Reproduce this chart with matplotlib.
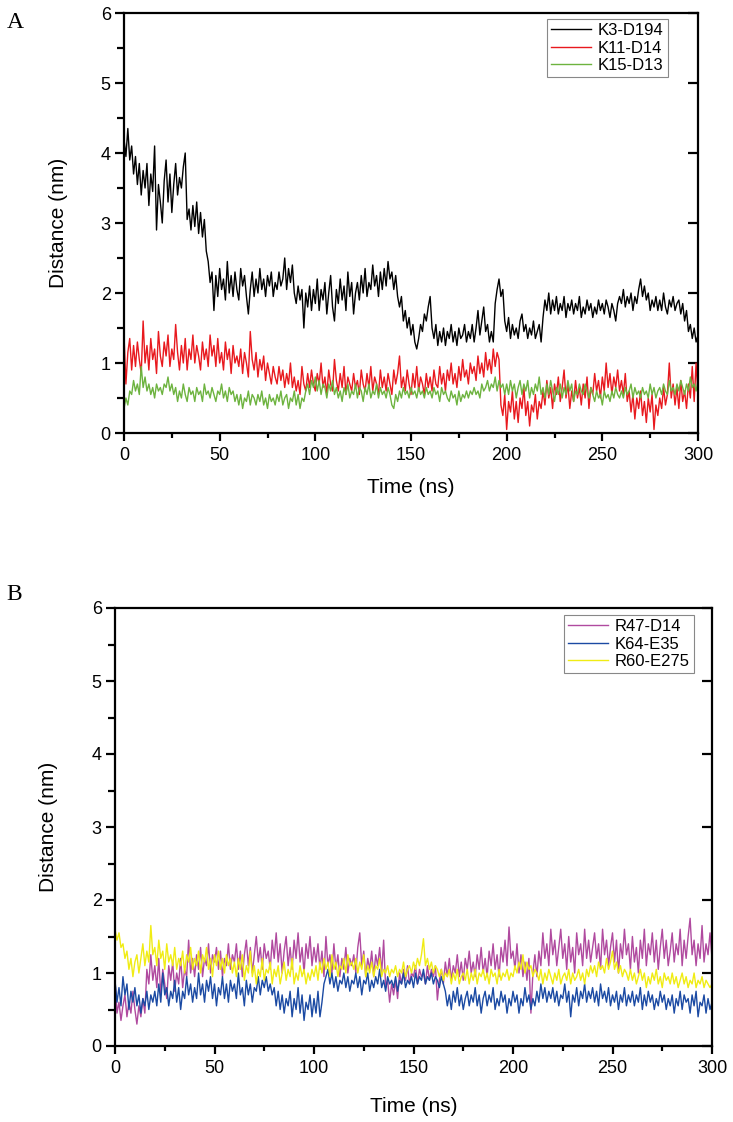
import numpy as np
import matplotlib

matplotlib.use("Agg")
import matplotlib.pyplot as plt
from matplotlib.ticker import MultipleLocator

# time axis: one read-off value per ns, 0..300 ns
time_ns = np.arange(0, 301)

# panel A, salt-bridge distances (nm) (10 ns per line)
k3_d194 = [
    4.20, 3.95, 4.35, 3.90, 4.10, 3.70, 3.95, 3.55, 3.85, 3.40,
    3.75, 3.50, 3.85, 3.25, 3.70, 3.45, 4.10, 2.90, 3.55, 3.30,
    3.00, 3.60, 3.90, 3.30, 3.70, 3.15, 3.55, 3.85, 3.40, 3.65,
    3.50, 3.80, 4.00, 3.05, 3.20, 2.90, 3.25, 2.95, 3.30, 2.85,
    3.15, 2.80, 3.05, 2.60, 2.45, 2.15, 2.30, 1.75, 2.25, 1.95,
    2.35, 2.05, 2.20, 1.90, 2.45, 2.00, 2.25, 1.95, 2.30, 2.05,
    1.90, 2.35, 2.10, 2.25, 1.95, 1.70, 2.05, 2.30, 1.95, 2.20,
    2.00, 2.35, 2.05, 2.20, 1.95, 2.25, 2.10, 2.30, 1.95, 2.15,
    2.05, 2.30, 2.10, 2.20, 2.50, 2.05, 2.35, 2.15, 2.40, 2.00,
    1.85, 2.10, 1.90, 2.05, 1.50, 2.00, 1.80, 2.10, 1.75, 2.05,
    1.85, 2.20, 1.75, 2.05, 1.90, 2.15, 1.70, 2.00, 2.25, 1.80,
    1.60, 2.05, 1.85, 2.20, 1.90, 2.10, 1.75, 2.30, 1.95, 2.15,
    1.70, 2.00, 2.15, 1.90, 2.25, 2.00, 2.35, 1.95, 2.15, 2.05,
    2.40, 2.10, 2.25, 1.95, 2.30, 2.05, 2.35, 2.10, 2.45, 2.20,
    2.30, 2.05, 2.25, 1.95, 1.80, 1.95, 1.60, 1.75, 1.50, 1.65,
    1.40, 1.55, 1.30, 1.20, 1.35, 1.55, 1.45, 1.70, 1.60, 1.80,
    1.95, 1.50, 1.35, 1.55, 1.25, 1.45, 1.30, 1.50, 1.25, 1.45,
    1.35, 1.55, 1.30, 1.45, 1.25, 1.50, 1.35, 1.40, 1.55, 1.30,
    1.45, 1.35, 1.55, 1.30, 1.50, 1.75, 1.40, 1.60, 1.80, 1.45,
    1.55, 1.30, 1.45, 1.30, 1.85, 2.05, 2.20, 1.95, 2.05, 1.60,
    1.45, 1.65, 1.35, 1.55, 1.40, 1.50, 1.35, 1.60, 1.70, 1.45,
    1.55, 1.35, 1.50, 1.40, 1.60, 1.35, 1.45, 1.55, 1.30, 1.65,
    1.90, 1.75, 2.00, 1.70, 1.90, 1.75, 1.95, 1.70, 1.85, 1.75,
    1.95, 1.65, 1.85, 1.75, 1.90, 1.70, 1.85, 1.75, 1.95, 1.65,
    1.80, 1.70, 1.90, 1.75, 1.85, 1.65, 1.80, 1.70, 1.90, 1.75,
    1.85, 1.70, 1.90, 1.80, 1.65, 1.85, 1.75, 1.60, 1.85, 1.95,
    1.85, 2.05, 1.80, 1.95, 1.85, 2.00, 1.75, 1.95, 1.85, 2.05,
    2.20, 1.95, 2.10, 1.90, 2.00, 1.75, 1.90, 1.80, 1.95, 1.75,
    1.90, 1.75, 2.00, 1.80, 1.70, 1.90, 1.80, 1.95, 1.75, 1.85,
    1.90, 1.70, 1.85, 1.60, 1.75, 1.45, 1.55, 1.35, 1.50, 1.30,
    1.40,
]
k11_d14 = [
    1.40, 0.70, 1.15, 1.35, 0.90, 1.25, 0.95, 1.30, 1.05, 0.85,
    1.60, 1.00, 1.25, 0.90, 1.35, 1.05, 1.20, 0.85, 1.45, 1.10,
    0.95, 1.30, 1.10, 1.40, 0.95, 1.20, 1.05, 1.55, 1.15, 0.90,
    1.25, 1.00, 1.35, 0.90, 1.20, 1.05, 1.40, 1.00, 1.25, 1.10,
    0.90, 1.30, 1.05, 1.20, 0.95, 1.40, 1.10, 1.25, 0.95, 1.35,
    1.00, 1.15, 0.90, 1.30, 1.05, 1.20, 0.85, 1.25, 1.00, 1.10,
    0.95, 1.20, 0.85, 1.15, 1.00, 0.80, 1.45, 1.05, 0.90, 1.15,
    0.80, 1.05, 0.90, 1.10, 0.75, 1.00, 0.85, 0.70, 0.95, 0.80,
    0.70, 0.95, 0.75, 0.90, 0.65, 0.85, 0.70, 1.00, 0.65, 0.80,
    0.60, 0.75, 0.55, 0.95, 0.70, 0.60, 0.85, 0.65, 0.90, 0.70,
    0.60, 0.85, 0.70, 1.00, 0.65, 0.80, 0.55, 0.90, 0.70, 0.60,
    1.05, 0.75, 0.60, 0.85, 0.65, 0.95, 0.55, 0.80, 0.70, 0.60,
    0.85, 0.65, 0.75, 0.55, 0.90, 0.70, 0.60, 0.85, 0.65, 0.95,
    0.60, 0.80, 0.70, 0.55, 0.90, 0.65, 0.80, 0.60, 0.85, 0.70,
    0.55, 0.90, 0.70, 0.85, 1.10, 0.65, 0.80, 0.60, 0.90, 0.70,
    0.55, 0.85, 0.65, 0.95, 0.60, 0.80, 0.70, 0.55, 0.85, 0.65,
    0.80, 0.60, 0.90, 0.70, 0.65, 0.95, 0.70, 0.85, 0.60, 0.90,
    0.75, 1.00, 0.70, 0.85, 0.65, 0.95, 0.75, 1.05, 0.80, 0.90,
    0.70, 1.00, 0.85, 0.95, 0.75, 1.10, 0.85, 1.00, 0.80, 1.15,
    0.90, 1.05, 0.85, 1.20, 0.95, 1.15, 1.05, 0.40, 0.25, 0.55,
    0.05, 0.45, 0.30, 0.60, 0.20, 0.45, 0.15, 0.50, 0.35, 0.65,
    0.25, 0.45, 0.10, 0.40, 0.30, 0.55, 0.20, 0.45, 0.35, 0.60,
    0.40, 0.75, 0.50, 0.65, 0.35, 0.70, 0.55, 0.80, 0.45, 0.65,
    0.90, 0.50, 0.70, 0.35, 0.60, 0.45, 0.75, 0.50, 0.65, 0.40,
    0.70, 0.50, 0.80, 0.35, 0.65, 0.55, 0.85, 0.60, 0.75, 0.50,
    0.80, 0.60, 1.00, 0.65, 0.85, 0.55, 0.80, 0.65, 0.90, 0.60,
    0.75, 0.55, 0.85, 0.45, 0.60, 0.30, 0.55, 0.20, 0.50, 0.35,
    0.60, 0.25, 0.45, 0.15, 0.50, 0.30, 0.55, 0.05, 0.40, 0.25,
    0.50, 0.35, 0.65, 0.40, 0.55, 1.00, 0.50, 0.70, 0.40, 0.65,
    0.35, 0.75, 0.45, 0.60, 0.35, 0.70, 0.50, 0.95, 0.45, 1.00,
    0.55,
]
k15_d13 = [
    0.35, 0.50, 0.40, 0.60, 0.55, 0.75, 0.60, 0.70, 0.55, 0.95,
    0.65, 0.80, 0.60, 0.70, 0.55, 0.65, 0.50, 0.70, 0.60, 0.65,
    0.55, 0.70, 0.65, 0.80, 0.60, 0.70, 0.55, 0.65, 0.45, 0.60,
    0.50, 0.70, 0.55, 0.45, 0.65, 0.55, 0.60, 0.45, 0.65, 0.55,
    0.60, 0.45, 0.70, 0.55, 0.60, 0.50, 0.65, 0.55, 0.45, 0.60,
    0.55, 0.70, 0.50, 0.60, 0.45, 0.65, 0.55, 0.60, 0.45, 0.55,
    0.40, 0.55, 0.35, 0.50, 0.45, 0.60, 0.40, 0.55, 0.50, 0.40,
    0.55, 0.45, 0.60, 0.40, 0.50, 0.35, 0.55, 0.45, 0.50, 0.40,
    0.55, 0.45, 0.60, 0.40, 0.50, 0.55, 0.35, 0.50, 0.45, 0.60,
    0.40, 0.55, 0.35, 0.50, 0.45, 0.60, 0.70, 0.55, 0.75, 0.65,
    0.80, 0.60, 0.75, 0.55, 0.70, 0.65, 0.50, 0.70, 0.60, 0.75,
    0.55, 0.65, 0.50, 0.60, 0.45, 0.65, 0.55, 0.70, 0.50, 0.60,
    0.55, 0.70, 0.50, 0.65, 0.60, 0.45, 0.65, 0.55, 0.70, 0.50,
    0.60, 0.55, 0.70, 0.50, 0.65, 0.55, 0.60, 0.50, 0.65, 0.55,
    0.40, 0.35, 0.55, 0.45, 0.60, 0.50, 0.65, 0.55, 0.60, 0.50,
    0.65, 0.55, 0.60, 0.50, 0.65, 0.55, 0.60, 0.50, 0.65, 0.55,
    0.60, 0.50, 0.65, 0.55, 0.60, 0.45, 0.65, 0.55, 0.60, 0.50,
    0.45, 0.60, 0.50, 0.55, 0.40, 0.60, 0.45, 0.55, 0.50, 0.60,
    0.50, 0.60, 0.55, 0.65, 0.55, 0.60, 0.50, 0.70, 0.60, 0.65,
    0.75, 0.60, 0.70, 0.65, 0.80, 0.60, 0.75, 0.65, 0.70, 0.55,
    0.70, 0.55, 0.75, 0.60, 0.70, 0.50, 0.65, 0.75, 0.55, 0.70,
    0.60, 0.75, 0.50, 0.65, 0.55, 0.70, 0.60, 0.80, 0.55, 0.65,
    0.50, 0.70, 0.55, 0.75, 0.60, 0.45, 0.65, 0.55, 0.70, 0.50,
    0.65, 0.55, 0.75, 0.60, 0.70, 0.45, 0.60, 0.55, 0.70, 0.60,
    0.55, 0.70, 0.60, 0.50, 0.65, 0.55, 0.45, 0.60, 0.50, 0.55,
    0.40, 0.60, 0.50, 0.55, 0.45, 0.60, 0.50, 0.65, 0.55, 0.50,
    0.60, 0.50, 0.65, 0.55, 0.60, 0.70, 0.50, 0.65, 0.55, 0.60,
    0.50, 0.65, 0.55, 0.60, 0.50, 0.70, 0.55, 0.65, 0.50, 0.60,
    0.65, 0.55, 0.70, 0.60, 0.55, 0.75, 0.60, 0.65, 0.55, 0.70,
    0.60, 0.75, 0.65, 0.55, 0.70, 0.60, 0.80, 0.65, 0.70, 0.60,
    0.75,
]

# panel B
r47_d14 = [
    0.90, 0.45, 0.60, 0.35, 0.55, 0.70, 0.40, 0.60, 0.45, 0.75,
    0.50, 0.30, 0.55, 0.40, 0.65, 0.45, 1.05, 0.85, 1.25, 0.90,
    1.10, 0.80, 1.20, 0.70, 1.05, 0.85, 0.65, 1.10, 0.90, 1.15,
    0.75, 1.00, 0.85, 1.20, 0.80, 1.05, 0.95, 1.45, 1.00, 1.20,
    0.95, 1.25, 1.05, 1.35, 0.95, 1.20, 1.10, 1.40, 1.00, 1.25,
    1.15, 1.35, 1.05, 1.30, 0.95, 1.20, 1.10, 1.40, 1.05, 1.25,
    1.15, 1.40, 1.05, 1.30, 0.95, 1.25, 1.45, 1.10, 1.35, 1.00,
    1.25, 1.50, 1.15, 1.35, 1.05, 1.40, 1.20, 1.30, 1.05, 1.45,
    1.20, 1.55, 1.15, 1.40, 1.00, 1.30, 1.50, 1.10, 1.35, 1.05,
    1.45, 1.20, 1.55, 1.15, 1.35, 1.00, 1.40, 1.20, 1.50, 1.10,
    1.35, 1.15, 1.40, 1.05, 1.30, 0.95, 1.50, 1.10, 1.25, 1.00,
    1.40, 1.05, 1.25, 0.95, 1.20, 1.05, 1.35, 1.00, 1.20, 1.10,
    1.25, 1.00, 1.35, 1.55, 1.10, 1.30, 0.95, 1.20, 1.05, 1.30,
    0.95, 1.25, 1.10, 1.35, 1.00, 1.45, 0.80, 0.90, 0.60, 0.85,
    0.70, 0.90, 0.65, 1.00, 0.85, 1.05, 0.90, 1.10, 0.85, 1.00,
    0.95, 1.10, 0.85, 1.05, 0.95, 1.00, 0.85, 1.10, 0.90, 1.05,
    0.95, 1.10, 0.63, 0.90, 1.05, 0.85, 1.15, 0.95, 1.20, 0.90,
    1.10, 1.00, 1.25, 0.95, 1.15, 0.90, 1.20, 1.05, 1.30, 1.00,
    1.15, 0.95, 1.25, 1.05, 1.35, 1.00, 1.20, 0.95, 1.30, 1.10,
    1.40, 1.05, 1.25, 0.95, 1.35, 1.15, 1.45, 1.10, 1.63, 1.20,
    1.30, 1.05, 1.40, 1.00, 1.25, 0.95, 1.15, 0.90, 1.20, 0.45,
    1.00, 1.25, 0.95, 1.30, 1.10, 1.55, 1.20, 1.40, 1.10, 1.60,
    1.25, 1.45, 1.10, 1.35, 1.60, 1.20, 1.40, 1.05, 1.50, 1.15,
    1.35, 1.00, 1.55, 1.25, 1.40, 1.10, 1.60, 1.20, 1.45, 1.15,
    1.35, 1.55, 1.20, 1.40, 1.05, 1.60, 1.25, 1.45, 1.10, 1.35,
    1.55, 1.15, 1.45, 1.00, 1.40, 1.20, 1.60, 1.25, 1.40, 1.05,
    1.50, 1.15, 1.35, 1.00, 1.45, 1.20, 1.60, 1.10, 1.40, 1.25,
    1.55, 1.15, 1.45, 1.05, 1.35, 1.60, 1.20, 1.45, 1.10, 1.30,
    1.55, 1.15, 1.40, 1.25, 1.60, 1.10, 1.45, 1.20, 1.50, 1.75,
    1.25, 1.45, 1.10, 1.40, 1.20, 1.65, 1.15, 1.40, 1.25, 1.55,
    1.20,
]
k64_e35 = [
    0.90, 0.60, 0.80, 0.55, 0.95, 0.70, 0.85, 0.50, 0.75, 0.60,
    0.80, 0.55, 0.70, 0.45, 0.65, 0.55, 0.75, 0.50, 0.70, 0.60,
    0.75, 0.55, 0.85, 0.60, 1.00, 0.70, 0.80, 0.55, 0.75, 0.65,
    0.90, 0.60, 0.80, 0.50, 0.75, 0.65, 0.95, 0.70, 0.85, 0.60,
    0.80, 0.65, 1.00, 0.70, 0.85, 0.60, 0.90, 0.75, 0.95, 0.65,
    0.85, 0.55, 0.80, 0.70, 0.95, 0.65, 0.85, 0.60, 0.90, 0.75,
    0.85, 0.65, 1.00, 0.70, 0.80, 0.55, 0.90, 0.70, 0.85, 0.60,
    0.80, 0.75, 0.95, 0.70, 0.90, 0.80, 0.95, 0.75, 0.85, 0.70,
    0.80, 0.55, 0.75, 0.50, 0.70, 0.45, 0.65, 0.55, 0.75, 0.40,
    0.65, 0.50, 0.80, 0.45, 0.70, 0.35, 0.60, 0.50, 0.70, 0.40,
    0.65, 0.45, 0.75, 0.40, 0.60, 0.85, 0.95, 1.05, 0.85, 1.00,
    0.80, 0.95, 0.75, 0.90, 0.85, 1.00, 0.80, 0.95, 0.75, 0.90,
    0.85, 1.00, 0.80, 0.95, 0.70, 0.90, 0.85, 1.00, 0.75, 0.90,
    0.80, 0.95, 0.85, 1.05, 0.80, 0.90, 0.75, 0.95, 0.85, 0.90,
    0.80, 0.95, 0.75, 0.90, 0.85, 1.00, 0.80, 0.90, 0.85, 0.95,
    0.80, 1.00, 0.85, 0.95, 0.90, 1.05, 0.85, 0.95, 0.90, 1.00,
    0.85, 0.95, 0.90, 0.80, 0.95, 0.85, 0.75, 0.55, 0.70, 0.50,
    0.75, 0.60, 0.80, 0.55, 0.70, 0.50, 0.65, 0.75, 0.55, 0.70,
    0.60, 0.80, 0.55, 0.70, 0.45, 0.65, 0.75, 0.55, 0.70, 0.60,
    0.80, 0.50, 0.65, 0.55, 0.75, 0.60, 0.70, 0.45, 0.65, 0.55,
    0.75, 0.60, 0.70, 0.45, 0.65, 0.55, 0.80, 0.60, 0.70, 0.50,
    0.65, 0.55, 0.75, 0.60, 0.85, 0.65, 0.80, 0.60, 0.75, 0.65,
    0.80, 0.60, 0.75, 0.55, 0.70, 0.65, 0.85, 0.60, 0.75, 0.40,
    0.70, 0.60, 0.80, 0.55, 0.75, 0.65, 0.85, 0.60, 0.75, 0.65,
    0.80, 0.60, 0.75, 0.55, 0.85, 0.65, 0.75, 0.60, 0.80, 0.55,
    0.70, 0.60, 0.75, 0.50, 0.70, 0.60, 0.80, 0.55, 0.70, 0.60,
    0.75, 0.55, 0.70, 0.60, 0.80, 0.50, 0.70, 0.55, 0.75, 0.60,
    0.70, 0.50, 0.65, 0.55, 0.75, 0.60, 0.70, 0.50, 0.65, 0.55,
    0.70, 0.45, 0.65, 0.55, 0.75, 0.50, 0.70, 0.60, 0.65, 0.45,
    0.70, 0.55, 0.75, 0.40, 0.60, 0.55, 0.70, 0.45, 0.65, 0.50,
    0.60,
]
r60_e275 = [
    1.60, 1.45, 1.55, 1.35, 1.40, 1.20, 1.30, 1.05, 1.20, 0.95,
    1.15, 1.25, 1.00, 1.20, 1.40, 1.10, 1.30, 1.15, 1.65, 1.25,
    1.35, 1.10, 1.45, 1.20, 1.30, 1.05, 1.40, 1.15, 1.25, 1.10,
    1.35, 1.05, 1.20, 1.10, 1.30, 1.00, 1.25, 1.15, 1.35, 1.05,
    1.20, 1.10, 1.30, 1.00, 1.25, 1.15, 1.35, 1.05, 1.20, 0.95,
    1.25, 1.10, 1.30, 1.05, 1.20, 1.00, 1.25, 1.10, 1.20, 1.00,
    1.15, 0.95, 1.20, 1.05, 1.25, 0.90, 1.10, 1.00, 1.30, 0.95,
    1.10, 0.85, 1.05, 0.95, 1.20, 0.90, 1.05, 1.00, 1.15, 0.85,
    1.05, 0.95, 1.10, 0.85, 1.00, 1.15, 0.90, 1.05, 0.95, 1.20,
    0.85, 1.00, 0.90, 1.10, 0.95, 1.05, 0.85, 1.00, 0.90, 1.05,
    0.95, 1.10, 0.90, 1.15, 1.00, 1.20, 1.05, 1.15, 0.95, 1.25,
    1.05, 1.15, 0.95, 1.10, 1.05, 1.20, 1.00, 1.25, 1.10, 1.15,
    1.05, 1.20, 1.00, 1.15, 1.05, 1.25, 0.95, 1.10, 1.00, 1.15,
    0.95, 1.10, 1.05, 1.20, 0.95, 1.05, 1.00, 1.10, 0.95, 1.05,
    1.00, 1.10, 0.95, 1.05, 1.00, 1.15, 0.95, 1.05, 1.10, 1.00,
    1.15, 1.05, 1.20, 1.10, 1.25, 1.47, 1.10, 1.20, 1.05, 1.15,
    1.00, 1.10, 1.05, 0.95, 1.05, 0.90, 1.00, 0.95, 1.05, 0.85,
    1.00, 0.90, 1.05, 0.85, 0.95, 1.00, 0.90, 1.05, 0.85, 1.00,
    0.90, 1.05, 0.85, 1.00, 0.95, 1.05, 0.90, 1.00, 0.85, 1.05,
    0.95, 1.00, 0.85, 1.05, 0.90, 1.00, 0.95, 1.05, 0.90, 1.00,
    0.95, 1.10, 1.00, 1.15, 1.05, 1.25, 1.00, 1.15, 1.05, 1.10,
    0.95, 1.05, 1.00, 0.90, 1.05, 0.85, 1.00, 0.90, 1.05, 0.95,
    0.85, 1.00, 0.90, 1.05, 0.85, 0.95, 1.00, 0.90, 1.05, 0.85,
    1.00, 0.90, 0.95, 1.05, 0.90, 1.00, 0.85, 1.05, 0.95, 1.10,
    1.00, 1.10, 0.95, 1.15, 1.05, 1.10, 1.00, 1.20, 1.05, 1.15,
    1.30, 1.05, 1.15, 1.00, 1.10, 0.95, 1.05, 1.00, 0.90, 1.05,
    0.90, 1.00, 0.85, 0.95, 1.05, 0.90, 1.00, 0.80, 0.95, 0.85,
    1.00, 0.90, 1.05, 0.85, 0.95, 0.80, 1.00, 0.90, 0.95, 0.85,
    1.00, 0.85, 0.95, 0.80, 0.90, 1.00, 0.85, 0.95, 0.80, 0.90,
    0.85, 1.00, 0.80, 0.90, 0.85, 0.95, 0.80, 0.90, 0.85, 0.80,
    0.85,
]

panel_a = [("K3-D194", k3_d194, "#000000"),
           ("K11-D14", k11_d14, "#e8191e"),
           ("K15-D13", k15_d13, "#6db33f")]
panel_b = [("R47-D14", r47_d14, "#b04a9f"),
           ("K64-E35", k64_e35, "#1b4aa3"),
           ("R60-E275", r60_e275, "#f0ec14")]

plt.rcParams["font.family"] = ["Liberation Sans", "DejaVu Sans"]

W, H = 733, 1122
fig = plt.figure(figsize=(W / 100, H / 100), dpi=100)


def px_axes(left, top, right, bottom):
    """Axes box given in pixel coordinates of the output image."""
    return fig.add_axes([left / W, 1 - bottom / H, (right - left) / W, (bottom - top) / H])


def style_axes(ax, series, legend_anchor, ylabel_dx, xlabel_dy):
    for name, values, color in series:
        ax.plot(time_ns, values, color=color, lw=1.0, label=name)

    ax.set_xlim(0, 300)
    ax.set_ylim(0, 6)
    ax.xaxis.set_major_locator(MultipleLocator(50))
    ax.xaxis.set_minor_locator(MultipleLocator(25))
    ax.yaxis.set_major_locator(MultipleLocator(1))
    ax.yaxis.set_minor_locator(MultipleLocator(0.5))
    for sp in ax.spines.values():
        sp.set_linewidth(1.6)

    ax.tick_params(which="both", direction="out", top=False, right=False,
                   width=1.6, labelsize=13)
    ax.tick_params(axis="y", which="major", length=6.5, pad=3)
    ax.tick_params(axis="y", which="minor", length=5)
    ax.tick_params(axis="x", which="major", length=6, pad=4)
    ax.tick_params(axis="x", which="minor", length=3.5)

    # Origin-style inward major ticks on the right edge, no labels
    right = ax.secondary_yaxis("right")
    right.yaxis.set_major_locator(MultipleLocator(1))
    right.tick_params(direction="in", length=7, width=1.6, labelright=False)
    right.spines["right"].set_visible(False)

    ax.set_xlabel("Time (ns)", fontsize=15)
    ax.set_ylabel("Distance (nm)", fontsize=15)
    bbox = ax.get_position()
    ax.xaxis.set_label_coords(0.5, -xlabel_dy / (bbox.height * H))
    ax.xaxis.label.set_va("center")
    ax.yaxis.set_label_coords(-ylabel_dx / (bbox.width * W), 0.5)
    ax.yaxis.label.set_va("center")

    leg = ax.legend(loc="upper right", bbox_to_anchor=legend_anchor, borderaxespad=0,
                    fontsize=12, fancybox=False, framealpha=1, handlelength=2.4,
                    handletextpad=0.4, labelspacing=0.15, borderpad=0.25)
    leg.get_frame().set_edgecolor("#888888")
    leg.get_frame().set_linewidth(0.8)


ax_a = px_axes(124, 13, 698, 433)
style_axes(ax_a, panel_a, ((668 - 124) / 574, (433 - 19) / 420), 65, 54)

ax_b = px_axes(115, 608, 712, 1046)
style_axes(ax_b, panel_b, ((694 - 115) / 597, (1046 - 615) / 438), 66, 61)

fig.text(15 / W, 1 - 23 / H, "A", family="Liberation Serif", fontsize=17, ha="center", va="center")
fig.text(14 / W, 1 - 595 / H, "B", family="Liberation Serif", fontsize=17, ha="center", va="center")

fig.savefig("out.png", dpi=100)
plt.close(fig)
